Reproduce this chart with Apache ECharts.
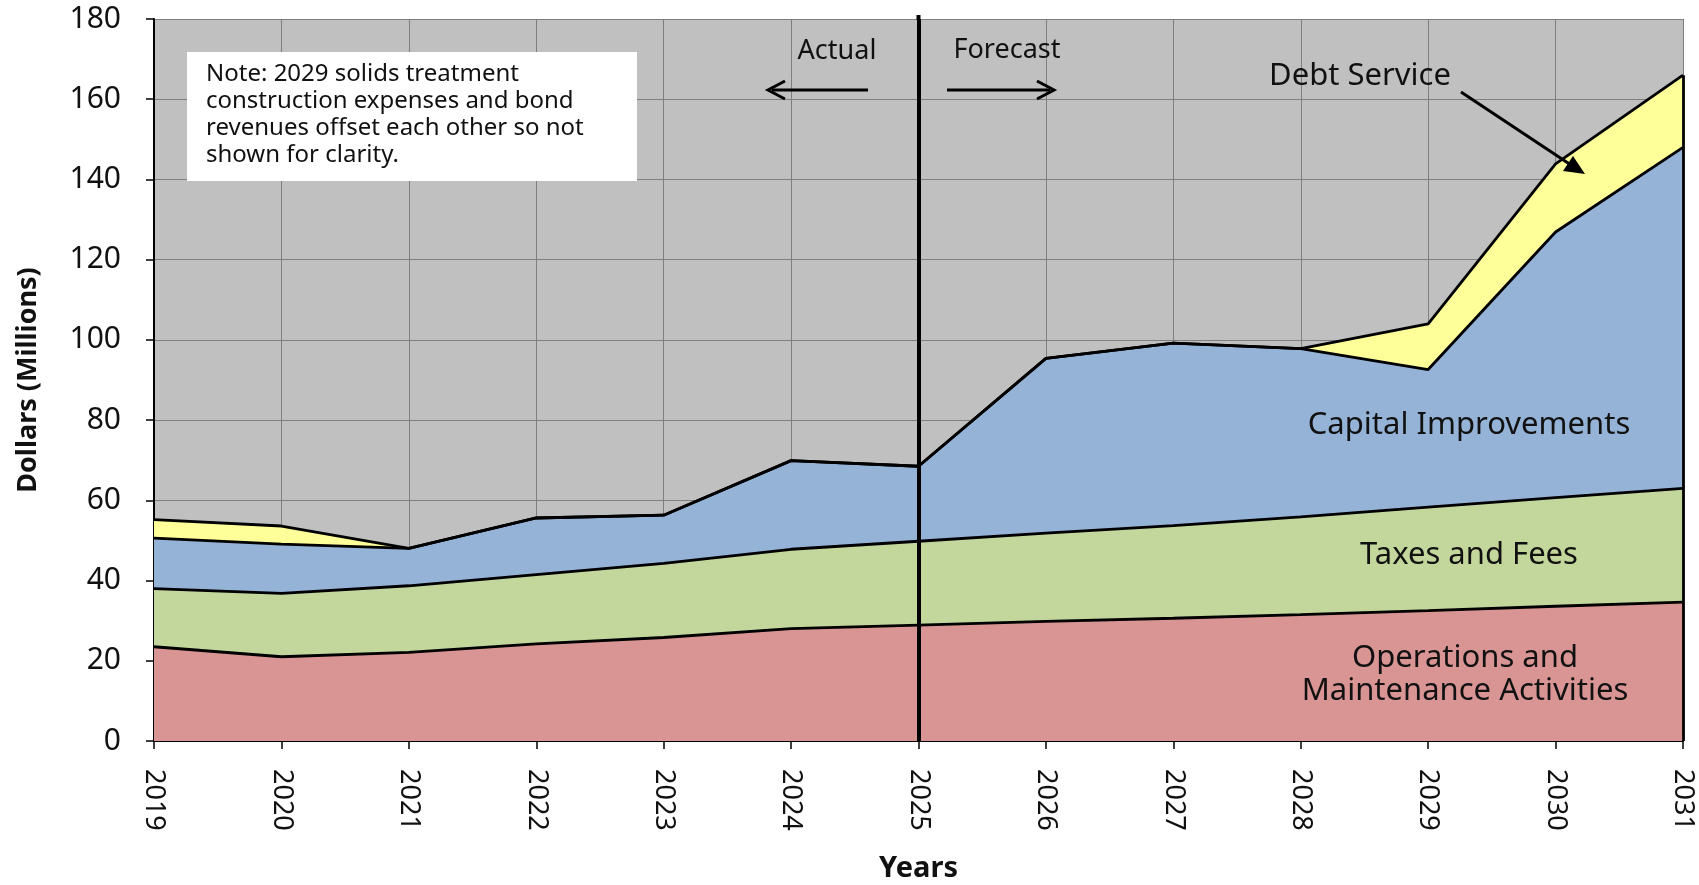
<!DOCTYPE html>
<html>
<head>
<meta charset="utf-8">
<script src="https://cdn.jsdelivr.net/npm/echarts@6/dist/echarts.min.js"></script>
<style>
html,body{margin:0;padding:0;background:#fff;}
#chart{width:1699px;height:885px;}
</style>
</head>
<body>
<div id="chart"></div>
<script>
const years = ['2019','2020','2021','2022','2023','2024','2025','2026','2027','2028','2029','2030','2031'];
const operations = [23.5, 21.0, 22.1, 24.2, 25.8, 28.0, 28.9, 29.8, 30.6, 31.5, 32.5, 33.6, 34.6];
const taxesFees = [14.5, 15.8, 16.6, 17.3, 18.5, 19.8, 20.9, 22.0, 23.1, 24.4, 25.8, 27.1, 28.4];
const capital = [12.6, 12.3, 9.3, 14.1, 12.0, 22.1, 18.7, 43.6, 45.5, 41.9, 34.3, 66.2, 85.0];
const debt = [4.6, 4.5, 0, 0, 0, 0, 0, 0, 0, 0, 11.4, 17.0, 18.0];
const yTicks = [0, 20, 40, 60, 80, 100, 120, 140, 160, 180];

const FONT = 'Noto Sans';
const chart = echarts.init(document.getElementById('chart'));
const total2031 = operations[12] + taxesFees[12] + capital[12] + debt[12];

function areaSeries(name, data, color, extra) {
  return Object.assign({
    name: name, type: 'line', stack: 'total', data: data,
    showSymbol: false, symbol: 'none',
    lineStyle: {color: '#000', width: 2.8},
    areaStyle: {color: color, opacity: 1},
    emphasis: {disabled: true}
  }, extra || {});
}

const option = {
  animation: false,
  backgroundColor: '#ffffff',
  textStyle: {fontFamily: FONT},
  grid: {left: 154, right: 16, top: 19, bottom: 144, show: true, backgroundColor: '#c0c0c0', borderWidth: 0,
         containLabel: false, outerBoundsMode: 'none'},
  xAxis: {
    type: 'category', data: years, boundaryGap: false,
    name: 'Years', nameLocation: 'middle', nameGap: 113,
    nameTextStyle: {fontFamily: FONT, fontWeight: 'bold', fontSize: 29, color: '#111'},
    axisLine: {lineStyle: {color: '#000', width: 2}},
    axisTick: {show: true, length: 8, lineStyle: {color: '#000', width: 1.5}, alignWithLabel: true},
    axisLabel: {rotate: -90, fontSize: 27, color: '#111', margin: 28, fontFamily: FONT},
    splitLine: {show: true, lineStyle: {color: '#7f7f7f', width: 1}}
  },
  yAxis: {
    type: 'value', min: yTicks[0], max: yTicks[yTicks.length - 1], interval: 20,
    name: 'Dollars (Millions)', nameLocation: 'middle', nameGap: 112,
    nameTextStyle: {fontFamily: FONT, fontWeight: 'bold', fontSize: 27, color: '#111'},
    axisLine: {show: true, lineStyle: {color: '#000', width: 2}},
    axisTick: {show: true, length: 8, lineStyle: {color: '#000', width: 1.5}},
    axisLabel: {fontSize: 30, color: '#111', margin: 33, fontFamily: FONT},
    splitLine: {show: true, lineStyle: {color: '#7f7f7f', width: 1}}
  },
  series: [
    areaSeries('Operations and Maintenance Activities', operations, '#d99594', {
      markLine: {
        silent: true, symbol: 'none', label: {show: false},
        lineStyle: {color: '#000', width: 4, type: 'solid'},
        data: [{xAxis: '2025'}]
      }
    }),
    areaSeries('Taxes and Fees', taxesFees, '#c3d69b'),
    areaSeries('Capital Improvements', capital, '#95b3d7'),
    areaSeries('Debt Service', debt, '#ffff99', {
      markLine: {
        silent: true, symbol: 'none', label: {show: false},
        lineStyle: {color: '#000', width: 2.8, type: 'solid'},
        data: [[{coord: ['2031', 0]}, {coord: ['2031', total2031]}]]
      }
    })
  ],
  graphic: [
    {type: 'rect', shape: {x: 187, y: 52, width: 450, height: 129}, style: {fill: '#ffffff'}, z: 10},
    {type: 'text', x: 206, y: 61, z: 11, style: {
      text: 'Note: 2029 solids treatment\nconstruction expenses and bond\nrevenues offset each other so not\nshown for clarity.',
      font: '24px "Noto Sans"', fill: '#111', lineHeight: 27}},
    {type: 'line', z: 11, shape: {x1: 918.5, y1: 15, x2: 918.5, y2: 20}, style: {stroke: '#000', lineWidth: 4}},
    {type: 'text', x: 837, y: 51, z: 11, style: {text: 'Actual', font: '27px "Noto Sans"', fill: '#111', align: 'center', verticalAlign: 'middle'}},
    {type: 'text', x: 1007, y: 50, z: 11, style: {text: 'Forecast', font: '27px "Noto Sans"', fill: '#111', align: 'center', verticalAlign: 'middle'}},
    {type: 'line', z: 11, shape: {x1: 868, y1: 90, x2: 772, y2: 90}, style: {stroke: '#000', lineWidth: 3}},
    {type: 'polyline', z: 11, shape: {points: [[785, 81], [768, 90], [785, 99]]}, style: {stroke: '#000', lineWidth: 3, fill: null}},
    {type: 'line', z: 11, shape: {x1: 947, y1: 90, x2: 1050, y2: 90}, style: {stroke: '#000', lineWidth: 3}},
    {type: 'polyline', z: 11, shape: {points: [[1037, 81], [1054, 90], [1037, 99]]}, style: {stroke: '#000', lineWidth: 3, fill: null}},
    {type: 'text', x: 1360, y: 76, z: 11, style: {text: 'Debt Service', font: '31px "Noto Sans"', fill: '#111', align: 'center', verticalAlign: 'middle'}},
    {type: 'line', z: 11, shape: {x1: 1461, y1: 92, x2: 1580, y2: 171}, style: {stroke: '#000', lineWidth: 3}},
    {type: 'polygon', z: 11, shape: {points: [[1585, 174], [1563, 171], [1573, 156]]}, style: {fill: '#000'}},
    {type: 'text', x: 1469, y: 425, z: 11, style: {text: 'Capital Improvements', font: '31px "Noto Sans"', fill: '#111', align: 'center', verticalAlign: 'middle'}},
    {type: 'text', x: 1469, y: 555, z: 11, style: {text: 'Taxes and Fees', font: '31px "Noto Sans"', fill: '#111', align: 'center', verticalAlign: 'middle'}},
    {type: 'text', x: 1465, y: 675, z: 11, style: {text: 'Operations and\nMaintenance Activities', font: '31px "Noto Sans"', fill: '#111', align: 'center', verticalAlign: 'middle', lineHeight: 33}}
  ]
};
chart.setOption(option);
</script>
</body>
</html>
